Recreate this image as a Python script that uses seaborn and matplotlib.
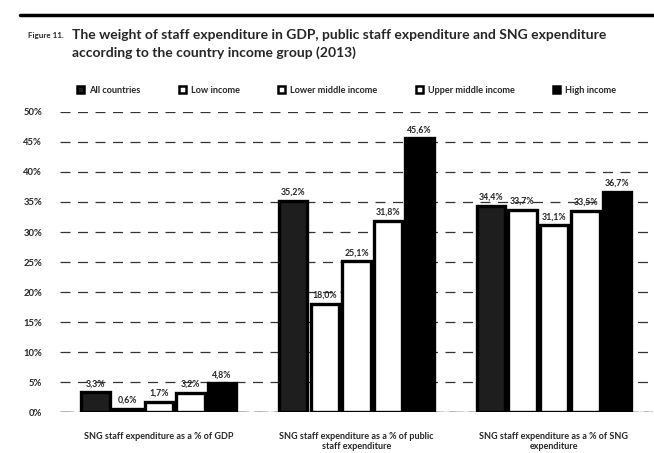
import matplotlib
matplotlib.use("Agg")
import matplotlib.pyplot as plt
from matplotlib.lines import Line2D
from matplotlib.patches import Patch
import seaborn as sns
import pandas as pd

sns.set_theme(style="white")
plt.rcParams['font.family'] = ['Lato', 'DejaVu Sans']

# data
indicators = ["SNG staff expenditure as a % of GDP",
              "SNG staff expenditure as a % of public\nstaff expenditure",
              "SNG staff expenditure as a % of SNG\nexpenditure"]
groups = ["All countries", "Low income", "Lower middle income",
          "Upper middle income", "High income"]
all_countries = [3.3, 35.2, 34.4]
low_income = [0.6, 18.0, 33.7]
lower_middle = [1.7, 25.1, 31.1]
upper_middle = [3.2, 31.8, 33.5]
high_income = [4.8, 45.6, 36.7]

series = [all_countries, low_income, lower_middle, upper_middle, high_income]
rows = []
for g, vals in zip(groups, series):
    for ind, v in zip(indicators, vals):
        rows.append({"indicator": ind, "group": g, "value": v})
df = pd.DataFrame(rows)

faces = ["#1e1e1e", "white", "white", "white", "black"]

fig = plt.figure(figsize=(6.54, 4.53), dpi=100)
ax = fig.add_axes([0.092, 0.09, 0.906, 0.663])

sns.barplot(data=df, x="indicator", y="value", hue="group", order=indicators,
            hue_order=groups, palette=faces, edgecolor="black", linewidth=2.4,
            width=0.8, gap=0.1, legend=False, ax=ax, zorder=3)

for cont in ax.containers:
    labels = [f"{v:.1f}%".replace(".", ",") for v in cont.datavalues]
    ax.bar_label(cont, labels=labels, padding=3, fontsize=6.3, fontweight="bold")

ax.set_xlim(-0.5, 2.5)
ax.set_ylim(0, 50)
ax.set_yticks(range(0, 51, 5))
ax.set_yticklabels([f"{t}%" for t in range(0, 51, 5)], fontsize=6.8, fontweight="bold")
ax.tick_params(axis="y", length=0, pad=13)
ax.tick_params(axis="x", length=0, pad=14, labelsize=6.5)
for lab in ax.get_xticklabels():
    lab.set_fontweight("bold")
ax.set_xlabel("")
ax.set_ylabel("")
ax.yaxis.grid(True, color="#333333", linestyle=(0, (8, 6)), linewidth=0.9, zorder=0)
ax.axhline(0, color="black", linewidth=1.0, linestyle=(0, (10, 4)), zorder=4)
sns.despine(ax=ax, left=True, bottom=True, top=True, right=True)

handles = [Patch(facecolor=f, edgecolor="black", linewidth=1.8) for f in faces]
fig.legend(handles, groups, loc="center", bbox_to_anchor=(0.53, 0.80), ncol=5,
           frameon=False, handlelength=0.8, handleheight=0.8,
           columnspacing=4.2, handletextpad=0.5, prop={"weight": "bold", "size": 6.6})

fig.add_artist(Line2D([0.03, 1.0], [0.967, 0.967], color="black", linewidth=2.5))
fig.text(0.043, 0.922, "Figure 11.", fontsize=5.8, fontweight="bold", va="center")
fig.text(0.11, 0.922,
         "The weight of staff expenditure in GDP, public staff expenditure and SNG expenditure",
         fontsize=10, fontweight="bold", va="center")
fig.text(0.11, 0.884, "according to the country income group (2013)",
         fontsize=10, fontweight="bold", va="center")

fig.savefig("out.png", dpi=100)
